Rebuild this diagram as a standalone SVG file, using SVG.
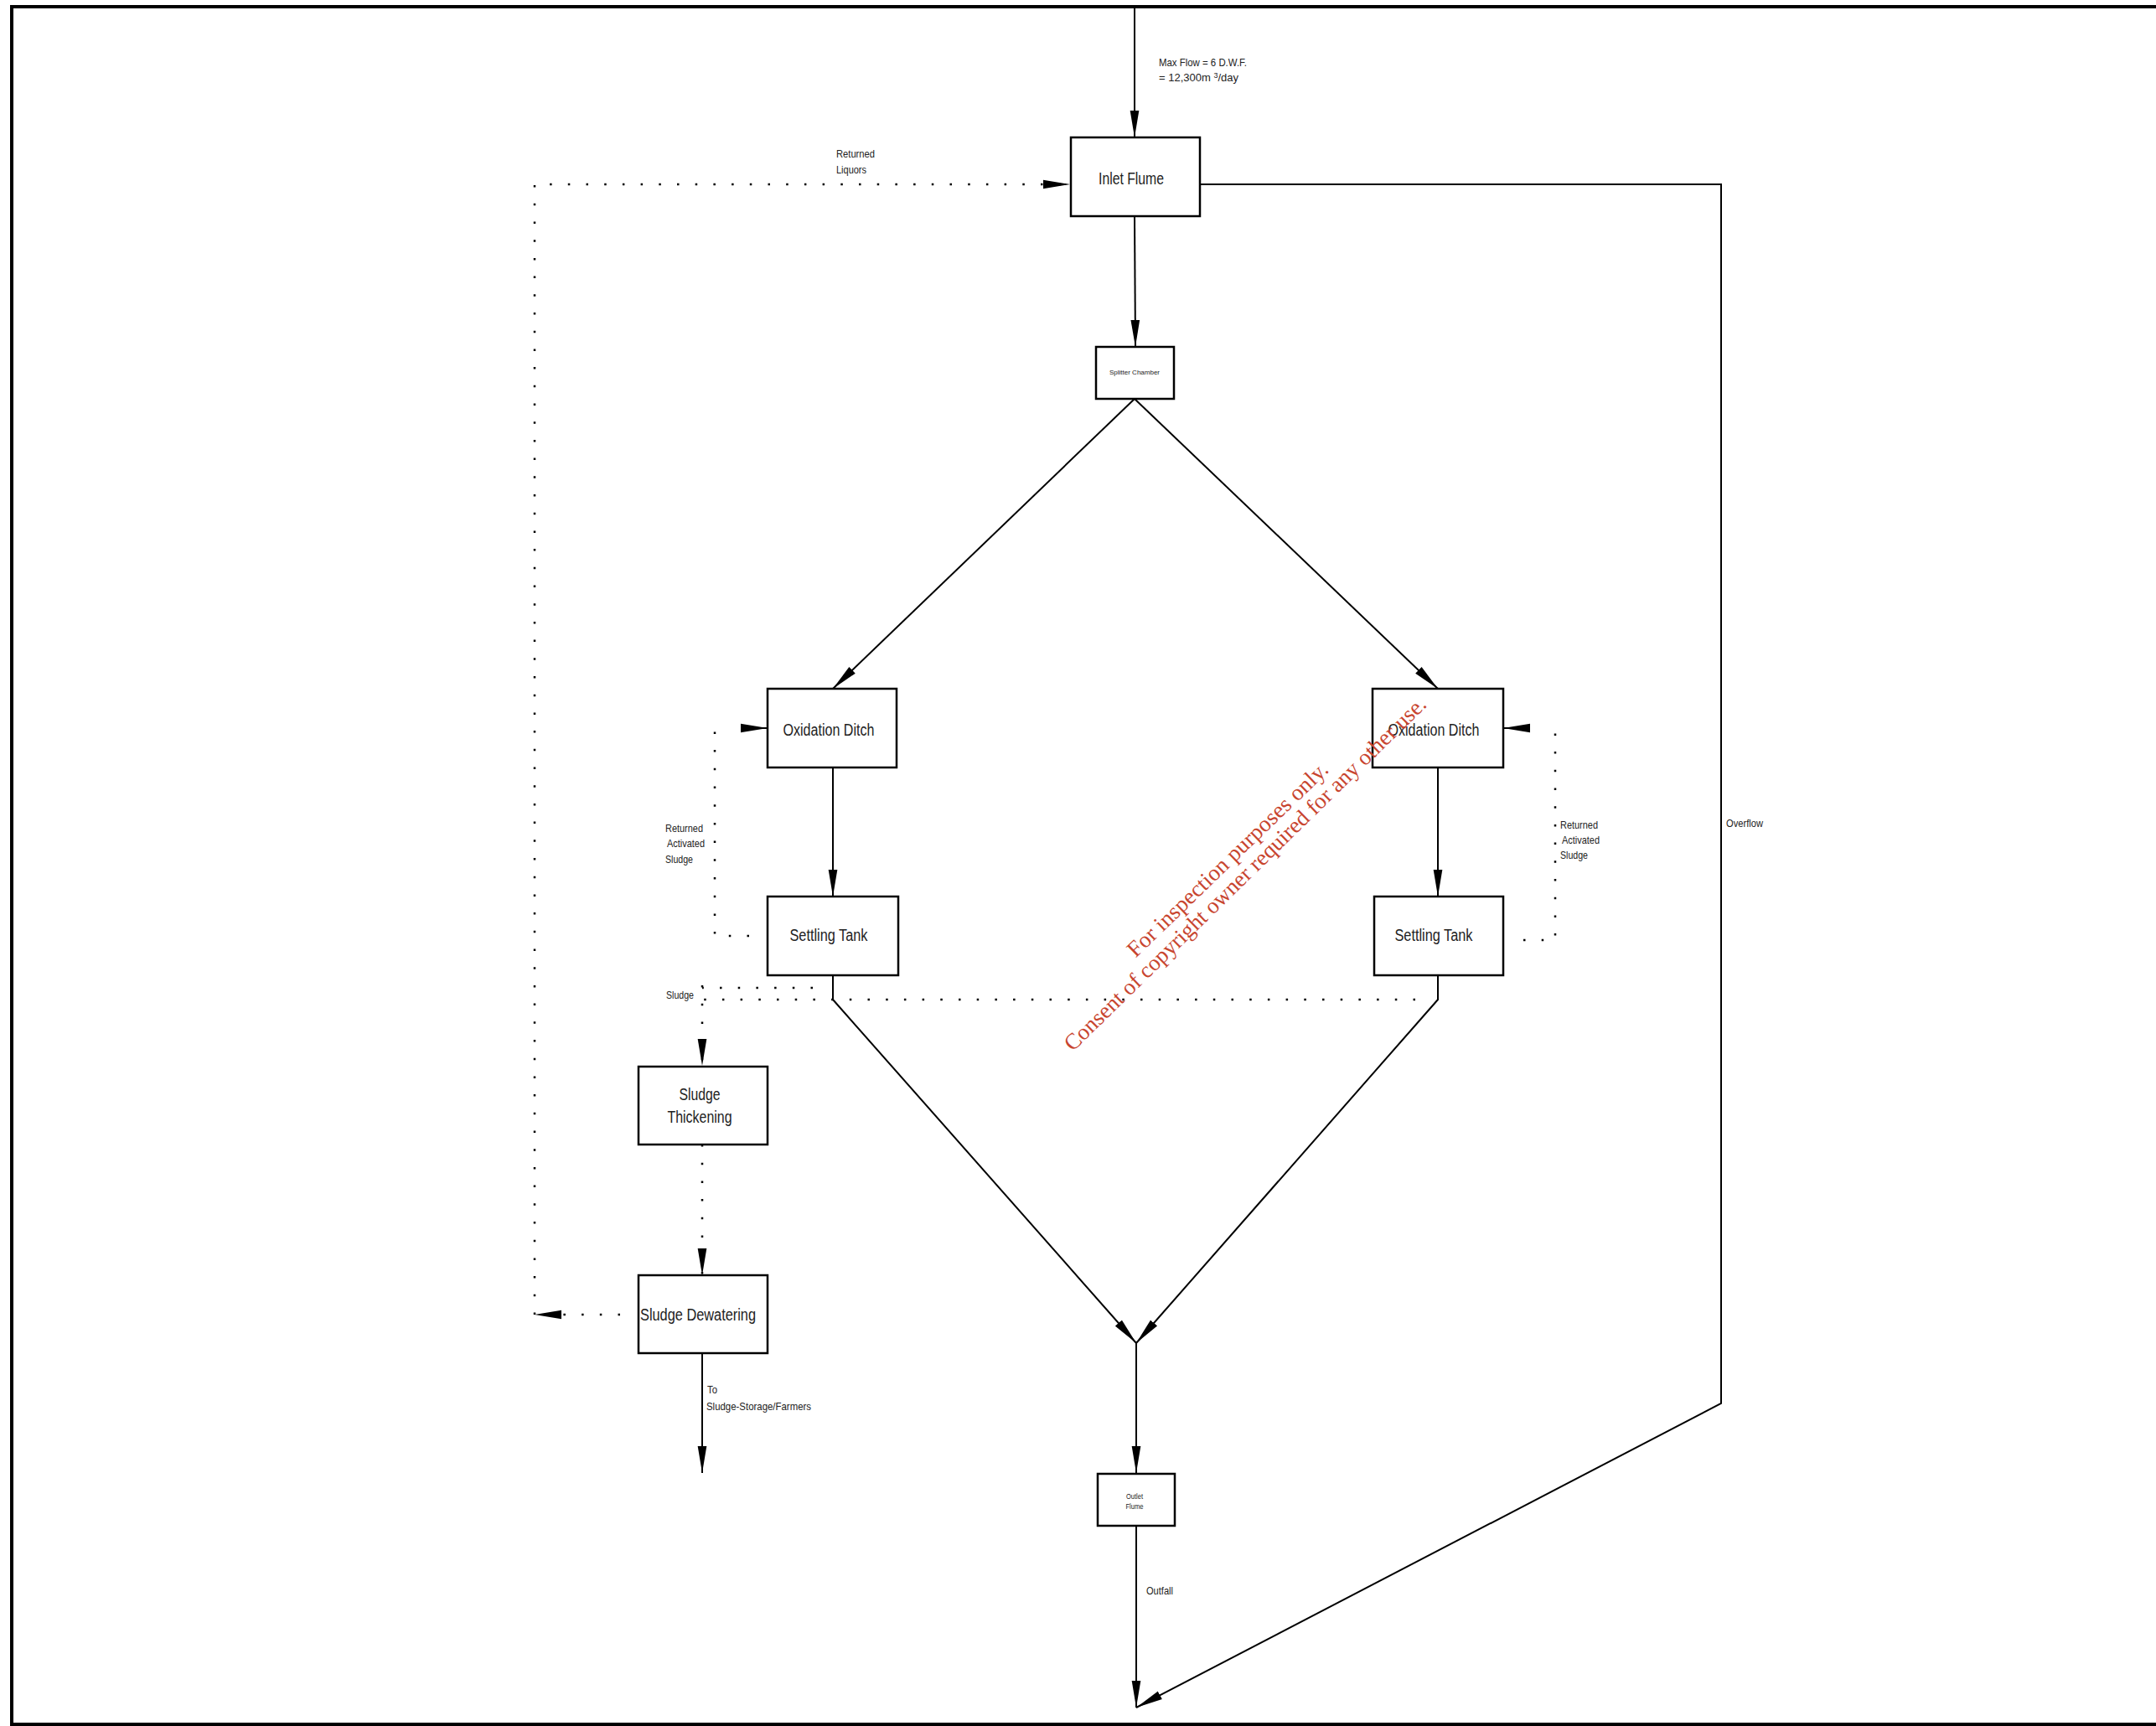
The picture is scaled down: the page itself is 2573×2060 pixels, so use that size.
<svg xmlns="http://www.w3.org/2000/svg" width="2573" height="2060" viewBox="0 0 2573 2060">
<defs>
<marker id="ah" markerUnits="userSpaceOnUse" markerWidth="32" markerHeight="12" refX="30" refY="5" orient="auto" viewBox="0 0 30 10">
<path d="M0,0 L30,5 L0,10 z" fill="#000"/>
</marker>
<style>
.box{fill:#fff;stroke:#000;stroke-width:2.5}
.ln{fill:none;stroke:#000;stroke-width:2}
.dot{fill:none;stroke:#000;stroke-width:2.5;stroke-dasharray:2.5 19.2}
.t{font-family:"Liberation Sans Narrow","Liberation Sans",Arial,sans-serif;fill:#222}
.big{font-size:20px}
.sm{font-size:13px}
.xs{font-size:9px}
.wm{font-family:"Liberation Serif","Times New Roman",serif;font-size:27px;fill:#c8452f}
</style>
</defs>
<rect x="0" y="0" width="2573" height="2060" fill="#fff"/>
<rect x="14" y="8" width="2600" height="2050" fill="none" stroke="#000" stroke-width="4"/>

<g id="connectors">
<path class="ln" d="M1354,10 V164" marker-end="url(#ah)"/>
<path class="ln" d="M1354,258 L1355,414" marker-end="url(#ah)"/>
<path class="ln" d="M1354,476 L994,822" marker-end="url(#ah)"/>
<path class="ln" d="M1354,476 L1716,822" marker-end="url(#ah)"/>
<path class="ln" d="M994,916 V1070" marker-end="url(#ah)"/>
<path class="ln" d="M1716,916 V1070" marker-end="url(#ah)"/>
<path class="ln" d="M994,1164 V1193 L1356,1603" marker-end="url(#ah)"/>
<path class="ln" d="M1716,1164 V1193 L1356,1603" marker-end="url(#ah)"/>
<path class="ln" d="M1356,1603 V1758" marker-end="url(#ah)"/>
<path class="ln" d="M1356,1821 V2038" marker-end="url(#ah)"/>
<path class="ln" d="M1432,220 H2054 V1675 L1356,2038" marker-end="url(#ah)"/>
<path class="ln" d="M838,1615 V1758" marker-end="url(#ah)"/>
<path class="dot" d="M740,1569 H638" marker-end="url(#ah)"/>
<path class="dot" d="M638,1569 V220 H1277" marker-end="url(#ah)"/>
<path class="dot" d="M894,1117 H853 V869"/>
<path class="ln" d="M884,869 H916" marker-end="url(#ah)"/>
<path class="dot" d="M1818,1122 H1856 V869"/>
<path class="ln" d="M1825,869 H1794" marker-end="url(#ah)"/>
<path class="dot" d="M970,1179 H838"/>
<path class="dot" d="M1689,1193 H838"/>
<path class="dot" d="M838,1176 V1272" marker-end="url(#ah)"/>
<path class="dot" d="M838,1366 V1522" marker-end="url(#ah)"/>
</g>

<g id="inlet-flume">
<rect class="box" x="1278" y="164" width="154" height="94"/>
<text class="t big" x="1350" y="220" text-anchor="middle" textLength="78" lengthAdjust="spacingAndGlyphs">Inlet Flume</text>
</g>
<g id="splitter-chamber">
<rect class="box" x="1308" y="414" width="93" height="62"/>
<text class="t" style="font-size:8px" x="1354" y="447" text-anchor="middle" textLength="60" lengthAdjust="spacingAndGlyphs">Splitter  Chamber</text>
</g>
<g id="oxidation-ditch-left">
<rect class="box" x="916" y="822" width="154" height="94"/>
<text class="t big" x="989" y="878" text-anchor="middle" textLength="109" lengthAdjust="spacingAndGlyphs">Oxidation Ditch</text>
</g>
<g id="oxidation-ditch-right">
<rect class="box" x="1638" y="822" width="156" height="94"/>
<text class="t big" x="1711" y="878" text-anchor="middle" textLength="109" lengthAdjust="spacingAndGlyphs">Oxidation Ditch</text>
</g>
<g id="settling-tank-left">
<rect class="box" x="916" y="1070" width="156" height="94"/>
<text class="t big" x="989" y="1123" text-anchor="middle" textLength="93" lengthAdjust="spacingAndGlyphs">Settling Tank</text>
</g>
<g id="settling-tank-right">
<rect class="box" x="1640" y="1070" width="154" height="94"/>
<text class="t big" x="1711" y="1123" text-anchor="middle" textLength="93" lengthAdjust="spacingAndGlyphs">Settling Tank</text>
</g>
<g id="sludge-thickening">
<rect class="box" x="762" y="1273" width="154" height="93"/>
<text class="t big" x="835" y="1313" text-anchor="middle" textLength="49" lengthAdjust="spacingAndGlyphs">Sludge</text>
<text class="t big" x="835" y="1340" text-anchor="middle" textLength="77" lengthAdjust="spacingAndGlyphs">Thickening</text>
</g>
<g id="sludge-dewatering">
<rect class="box" x="762" y="1522" width="154" height="93"/>
<text class="t big" x="833" y="1576" text-anchor="middle" textLength="138" lengthAdjust="spacingAndGlyphs">Sludge Dewatering</text>
</g>
<g id="outlet-flume">
<rect class="box" x="1310" y="1759" width="92" height="62"/>
<text class="t xs" x="1354" y="1789" text-anchor="middle" textLength="20" lengthAdjust="spacingAndGlyphs">Outlet</text>
<text class="t xs" x="1354" y="1801" text-anchor="middle" textLength="21" lengthAdjust="spacingAndGlyphs">Flume</text>
</g>

<g id="labels">
<text class="t sm" x="1383" y="79" textLength="105" lengthAdjust="spacingAndGlyphs">Max Flow = 6 D.W.F.</text>
<text class="t sm" x="1383" y="97">= 12,300m <tspan dy="-4" style="font-size:9px">3</tspan><tspan dy="4">/day</tspan></text>
<text class="t sm" x="998" y="188" textLength="46" lengthAdjust="spacingAndGlyphs">Returned</text>
<text class="t sm" x="998" y="207" textLength="36" lengthAdjust="spacingAndGlyphs">Liquors</text>
<text class="t sm" x="794" y="993" textLength="45" lengthAdjust="spacingAndGlyphs">Returned</text>
<text class="t sm" x="796" y="1011" textLength="45" lengthAdjust="spacingAndGlyphs">Activated</text>
<text class="t sm" x="794" y="1030" textLength="33" lengthAdjust="spacingAndGlyphs">Sludge</text>
<text class="t sm" x="1862" y="989" textLength="45" lengthAdjust="spacingAndGlyphs">Returned</text>
<text class="t sm" x="1864" y="1007" textLength="45" lengthAdjust="spacingAndGlyphs">Activated</text>
<text class="t sm" x="1862" y="1025" textLength="33" lengthAdjust="spacingAndGlyphs">Sludge</text>
<text class="t sm" x="2060" y="987" textLength="44" lengthAdjust="spacingAndGlyphs">Overflow</text>
<text class="t sm" x="795" y="1192" textLength="33" lengthAdjust="spacingAndGlyphs">Sludge</text>
<text class="t sm" x="844" y="1663" textLength="12" lengthAdjust="spacingAndGlyphs">To</text>
<text class="t sm" x="843" y="1683" textLength="125" lengthAdjust="spacingAndGlyphs">Sludge-Storage/Farmers</text>
<text class="t sm" x="1368" y="1903" textLength="32" lengthAdjust="spacingAndGlyphs">Outfall</text>
</g>

<g id="watermark">
<text class="wm" transform="translate(1471,1032) rotate(-44)" text-anchor="middle" textLength="322" lengthAdjust="spacingAndGlyphs">For inspection purposes only.</text>
<text class="wm" transform="translate(1492,1049) rotate(-44.3)" text-anchor="middle" textLength="592" lengthAdjust="spacingAndGlyphs">Consent of copyright owner required for any other use.</text>
</g>
</svg>
